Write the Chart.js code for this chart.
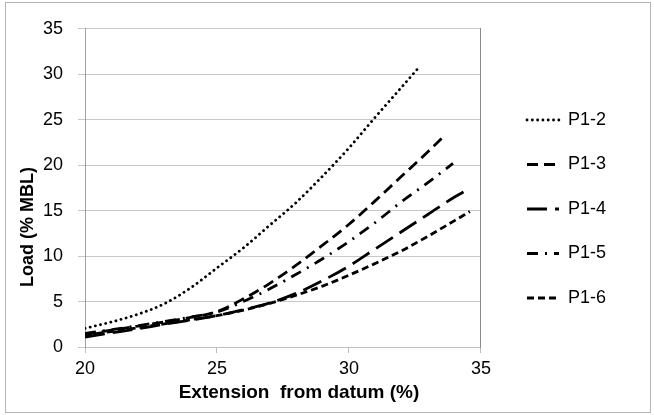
<!DOCTYPE html>
<html>
<head>
<meta charset="utf-8">
<script src="https://cdn.jsdelivr.net/npm/chart.js@4.4.1/dist/chart.umd.min.js"></script>
<style>
  html, body { margin: 0; padding: 0; background: #fff; }
  #frame { position: absolute; left: 5px; top: 2px; width: 644px; height: 409px; border: 1px solid #b4b4b4; }
  canvas { display: block; }
</style>
</head>
<body>
<div id="frame"><canvas id="c" width="644" height="409"></canvas></div>
<script>
// ---- data ----
const seriesNames = ["P1-2", "P1-3", "P1-4", "P1-5", "P1-6"];

const p12x = [20, 21, 22, 23, 24, 25, 26, 27, 28, 29, 30, 31, 32, 32.6];
const p12y = [2.05, 2.75, 3.6, 4.75, 6.5, 8.7, 10.9, 13.4, 15.9, 18.8, 21.9, 25.3, 28.6, 30.6];

const p13x = [20, 21, 22, 23, 24, 25, 26, 27, 28, 29, 30, 31, 32, 33, 33.6];
const p13y = [1.4, 1.85, 2.3, 2.75, 3.25, 3.9, 5.3, 7.0, 9.0, 11.2, 13.5, 16.1, 18.8, 21.5, 23.2];

const p14x = [20, 21, 22, 23, 24, 25, 26, 27, 28, 29, 30, 31, 32, 33, 34, 34.43];
const p14y = [1.1, 1.55, 2.0, 2.5, 2.95, 3.45, 4.1, 4.85, 5.9, 7.3, 8.9, 10.8, 12.7, 14.6, 16.5, 17.2];

const p15x = [20, 21, 22, 23, 24, 25, 26, 27, 28, 29, 30, 31, 32, 33, 33.94];
const p15y = [1.5, 1.9, 2.35, 2.8, 3.3, 3.85, 5.0, 6.4, 8.0, 9.7, 11.6, 13.7, 16.0, 18.1, 20.2];

const p16x = [20, 21, 22, 23, 24, 25, 26, 27, 28, 29, 30, 31, 32, 33, 34, 34.58];
const p16y = [1.3, 1.7, 2.1, 2.55, 3.0, 3.45, 4.05, 4.8, 5.7, 6.7, 7.9, 9.2, 10.6, 12.2, 13.9, 14.9];

const xTicks = [20, 25, 30, 35];
const yTicks = [0, 5, 10, 15, 20, 25, 30, 35];
const xTitle = "Extension  from datum (%)";
const yTitle = "Load (% MBL)";

// ---- build ----
const toPts = (xs, ys) => xs.map((x, i) => ({ x: x, y: ys[i] }));
const FONT = '"Liberation Sans", Arial, sans-serif';

const styles = [
  { dash: [0.1, 5.2], cap: 'round' },
  { dash: [11, 6], cap: 'butt' },
  { dash: [20, 8], cap: 'butt' },
  { dash: [11, 7, 2, 7], cap: 'butt' },
  { dash: [7, 4], cap: 'butt' }
];
const seriesData = [toPts(p12x, p12y), toPts(p13x, p13y), toPts(p14x, p14y), toPts(p15x, p15y), toPts(p16x, p16y)];

const datasets = seriesNames.map((name, i) => ({
  label: name,
  data: seriesData[i],
  borderColor: '#000',
  backgroundColor: '#000',
  borderWidth: 2.8,
  borderDash: styles[i].dash,
  borderCapStyle: styles[i].cap,
  pointRadius: 0,
  cubicInterpolationMode: 'monotone',
  fill: false
}));

const axisTitles = {
  id: 'axisTitles',
  afterDraw(chart) {
    const ctx = chart.ctx;
    ctx.save();
    ctx.fillStyle = '#000';
    ctx.textAlign = 'center';
    ctx.textBaseline = 'middle';
    ctx.font = 'bold 19px ' + FONT;
    ctx.fillText(xTitle, 293, 390);
    ctx.font = 'bold 18px ' + FONT;
    ctx.translate(22, 224);
    ctx.rotate(-Math.PI / 2);
    ctx.fillText(yTitle, 0, 0);
    ctx.restore();
  }
};

new Chart(document.getElementById('c'), {
  type: 'line',
  data: { datasets: datasets },
  plugins: [axisTitles],
  options: {
    responsive: false,
    animation: false,
    events: [],
    layout: { padding: { top: 22, right: 34, bottom: 19, left: 0 } },
    plugins: {
      tooltip: { enabled: false },
      legend: {
        position: 'right',
        maxWidth: 300,
        labels: {
          usePointStyle: true,
          pointStyle: 'line',
          pointStyleWidth: 32,
          padding: 26.5,
          color: '#000',
          font: { family: FONT, size: 18 },
          generateLabels: (chart) => {
            const items = Chart.defaults.plugins.legend.labels.generateLabels(chart);
            items.forEach((it) => {
              const ds = chart.data.datasets[it.datasetIndex];
              it.lineDash = ds.borderDash;
              it.lineCap = ds.borderCapStyle;
              it.lineWidth = ds.borderWidth;
              it.strokeStyle = '#000';
              it.fillStyle = '#000';
              it.pointStyle = 'line';
            });
            return items;
          }
        }
      }
    },
    scales: {
      x: {
        type: 'linear',
        min: 20, max: 35,
        afterBuildTicks: (s) => { s.ticks = xTicks.map(v => ({ value: v })); },
        afterFit: (s) => { s.height = 46; },
        grid: { drawOnChartArea: false, drawTicks: true, tickLength: 6, color: '#bdbdbd', tickColor: '#bdbdbd' },
        border: { display: true, color: '#bdbdbd' },
        ticks: { color: '#000', padding: 5, font: { family: FONT, size: 18 } }
      },
      y: {
        min: 0, max: 35,
        afterBuildTicks: (s) => { s.ticks = yTicks.map(v => ({ value: v })); },
        afterFit: (s) => { s.width = 79; },
        grid: { color: '#c8c8c8', tickColor: '#c8c8c8', tickLength: 7 },
        border: { display: true, color: '#a0a0a0' },
        ticks: { color: '#000', padding: 15, font: { family: FONT, size: 18 } }
      },
      y2: {
        position: 'right',
        display: true,
        min: 0, max: 35,
        afterFit: (s) => { s.width = 19.5; },
        grid: { drawOnChartArea: false, drawTicks: false },
        border: { display: true, color: '#8a8a8a' },
        ticks: { display: false }
      }
    }
  }
});
</script>
</body>
</html>
